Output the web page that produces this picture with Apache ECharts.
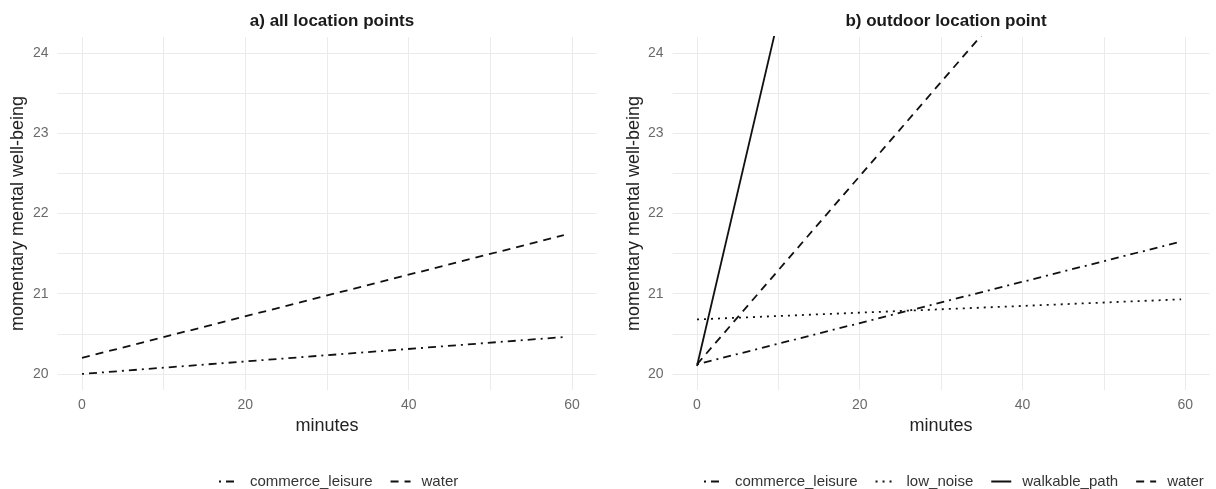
<!DOCTYPE html>
<html>
<head>
<meta charset="utf-8">
<script src="https://cdn.jsdelivr.net/npm/echarts@6/dist/echarts.min.js"></script>
<style>
  html, body { margin: 0; padding: 0; background: #fff; }
  #chart { width: 1216px; height: 489px; }
</style>
</head>
<body>
<div id="chart"></div>
<script>
// values (straight model lines, start and end points)
const minutesAll = [0, 59];
const allCommerce = [20.0, 20.46];
const allWater = [20.2, 21.73];

const minutesOut = [0, 59.5];
const outCommerce = [20.12, 21.65];
const outLowNoise = [20.68, 20.93];
const outWalkable = [20.1, 45.9];
const outWater = [20.12, 27.1];

const yLabels = [20, 21, 22, 23, 24];
const yGrid = [20, 20.5, 21, 21.5, 22, 22.5, 23, 23.5, 24];
const xLabels = [0, 20, 40, 60];
const xGrid = [0, 10, 20, 30, 40, 50, 60];

const panelTitles = ['a) all location points', 'b) outdoor location point'];

// ggplot-like linetypes
const dash = {
  commerce_leisure: [2, 5, 8, 5],
  low_noise: [2, 5],
  walkable_path: 'solid',
  water: [8, 6]
};

const font = 'Liberation Sans, Arial, sans-serif';

function pairs(xs, ys) {
  return xs.map((x, i) => [x, ys[i]]);
}

function lineSeries(name, idx, xs, ys) {
  return {
    name: name,
    type: 'line',
    xAxisIndex: idx,
    yAxisIndex: idx,
    data: pairs(xs, ys),
    symbol: 'none',
    clip: true,
    animation: false,
    lineStyle: { color: '#111', width: 1.8, type: dash[name], cap: 'butt' },
    itemStyle: { color: '#111' }
  };
}

function xAxis(idx) {
  return {
    type: 'value', gridIndex: idx, min: -3, max: 63,
    name: 'minutes', nameLocation: 'middle', nameGap: 26,
    nameTextStyle: { fontSize: 18, color: '#222', fontFamily: font },
    axisLine: { show: false },
    axisTick: { show: false, customValues: xGrid },
    axisLabel: { customValues: xLabels, fontSize: 14, color: '#6a6a6a', margin: 8, fontFamily: font },
    splitLine: { show: true, lineStyle: { color: '#ebebeb', width: 1 } }
  };
}

function yAxis(idx) {
  return {
    type: 'value', gridIndex: idx, min: 19.8, max: 24.2,
    name: 'momentary mental well-being', nameLocation: 'middle', nameGap: 30, nameRotate: 90,
    nameTextStyle: { fontSize: 18, color: '#222', fontFamily: font },
    axisLine: { show: false },
    axisTick: { show: false, customValues: yGrid },
    axisLabel: { customValues: yLabels, fontSize: 14, color: '#6a6a6a', margin: 9, fontFamily: font },
    splitLine: { show: true, lineStyle: { color: '#ebebeb', width: 1 } }
  };
}

function legend(left, names) {
  return {
    left: left, top: 469, width: 516, orient: 'horizontal',
    data: names, itemWidth: 20, itemHeight: 14, itemGap: 17,
    selectedMode: false,
    itemStyle: { opacity: 0 },
    textStyle: { fontSize: 15, color: '#333', fontFamily: font, padding: [0, 0, 0, 6] }
  };
}

const chart = echarts.init(document.getElementById('chart'), null, { renderer: 'canvas' });

chart.setOption({
  animation: false,
  backgroundColor: '#fff',
  title: [
    { text: panelTitles[0], left: 327, top: 8, textAlign: 'center',
      textStyle: { fontSize: 17, fontWeight: 'bold', color: '#1a1a1a', fontFamily: font } },
    { text: panelTitles[1], left: 941, top: 8, textAlign: 'center',
      textStyle: { fontSize: 17, fontWeight: 'bold', color: '#1a1a1a', fontFamily: font } }
  ],
  legend: [
    legend(213, ['commerce_leisure', 'water']),
    legend(698, ['commerce_leisure', 'low_noise', 'walkable_path', 'water'])
  ],
  grid: [
    { left: 57.5, top: 37, width: 539, height: 353 },
    { left: 672.6, top: 37, width: 537, height: 353 }
  ],
  xAxis: [xAxis(0), xAxis(1)],
  yAxis: [yAxis(0), yAxis(1)],
  series: [
    lineSeries('commerce_leisure', 0, minutesAll, allCommerce),
    lineSeries('water', 0, minutesAll, allWater),
    lineSeries('commerce_leisure', 1, minutesOut, outCommerce),
    lineSeries('low_noise', 1, minutesOut, outLowNoise),
    lineSeries('walkable_path', 1, minutesOut, outWalkable),
    lineSeries('water', 1, minutesOut, outWater)
  ]
});
</script>
</body>
</html>
